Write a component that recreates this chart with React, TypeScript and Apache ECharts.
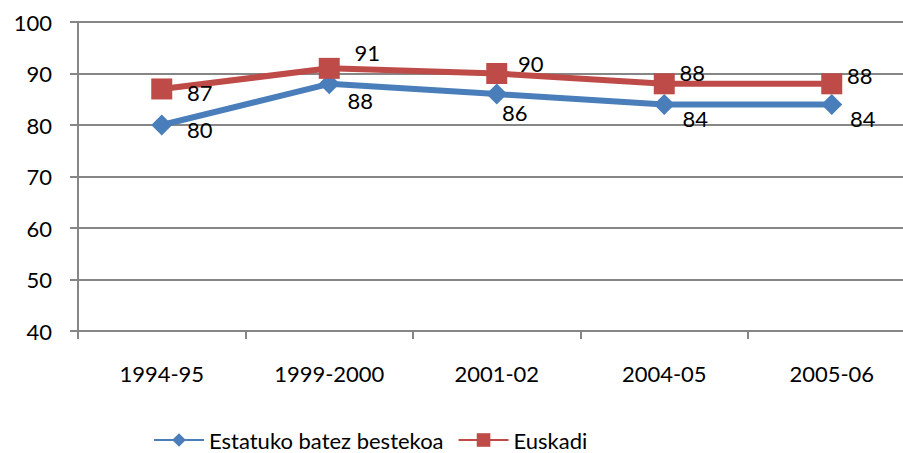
import React, { useEffect, useRef } from "react";
import * as echarts from "echarts";

const categories = ["1994-95", "1999-2000", "2001-02", "2004-05", "2005-06"];
const estatukoValues = [80, 88, 86, 84, 84];
const euskadiValues = [87, 91, 90, 88, 88];
const yTicks = { min: 40, max: 100, interval: 10 };

// label offsets (styling only)
const blueOffsets = [[38, 4], [31, 17], [18, 18], [31, 14], [31, 14]];
const redOffsets = [[38, 4], [38, -16], [34, -10], [28, -11], [28, -8]];

const FONT = "Lato, 'Liberation Sans', sans-serif";
const GRAY = "#868686";
const FS = 22;

export default function App() {
  const ref = useRef<HTMLDivElement>(null);
  useEffect(() => {
    document.body.style.margin = "0";
    const chart = echarts.init(ref.current!, undefined, { renderer: "svg" });
    const mkData = (vals: number[], offs: number[][]) =>
      vals.map((v, i) => ({
        value: v,
        label: { offset: offs[i] },
      }));
    chart.setOption({
      animation: false,
      textStyle: { fontFamily: FONT },
      grid: { left: 78, top: 22, width: 837.5, height: 309, containLabel: false },
      xAxis: {
        type: "category",
        data: categories,
        boundaryGap: true,
        axisLine: { show: true, lineStyle: { color: GRAY, width: 2 } },
        axisTick: { show: true, length: 8, lineStyle: { color: GRAY, width: 2 } },
        axisLabel: { color: "#000", fontSize: FS, margin: 31, fontFamily: FONT },
        splitLine: { show: false },
      },
      yAxis: {
        type: "value",
        min: yTicks.min,
        max: yTicks.max,
        interval: yTicks.interval,
        axisLine: { show: true, lineStyle: { color: GRAY, width: 2 } },
        axisTick: { show: true, length: 8, lineStyle: { color: GRAY, width: 2 } },
        axisLabel: { color: "#000", fontSize: FS, margin: 26, fontFamily: FONT },
        splitLine: { show: true, lineStyle: { color: GRAY, width: 2 } },
      },
      legend: {
        left: 148,
        top: 424,
        itemWidth: 50,
        itemHeight: 17,
        itemGap: 14,
        textStyle: { color: "#000", fontSize: FS, fontFamily: FONT },
        data: ["Estatuko batez bestekoa", "Euskadi"],
      },
      series: [
        {
          name: "Estatuko batez bestekoa",
          type: "line",
          data: mkData(estatukoValues, blueOffsets),
          color: "#4A7EBB",
          lineStyle: { width: 6, color: "#4A7EBB" },
          itemStyle: { color: "#4A7EBB" },
          symbol: "diamond",
          symbolSize: 21,
          z: 2,
          label: {
            show: true,
            position: "inside",
            color: "#000",
            fontSize: FS,
            fontFamily: FONT,
          },
        },
        {
          name: "Euskadi",
          type: "line",
          data: mkData(euskadiValues, redOffsets),
          color: "#BE4B48",
          lineStyle: { width: 6, color: "#BE4B48" },
          itemStyle: { color: "#BE4B48" },
          symbol: "rect",
          symbolSize: 21,
          z: 3,
          label: {
            show: true,
            position: "inside",
            color: "#000",
            fontSize: FS,
            fontFamily: FONT,
          },
        },
      ],
    });
    return () => chart.dispose();
  }, []);
  return (
    <div style={{ width: 903, height: 453, overflow: "hidden", position: "relative" }}>
      <div ref={ref} style={{ width: 930, height: 453 }} />
    </div>
  );
}
